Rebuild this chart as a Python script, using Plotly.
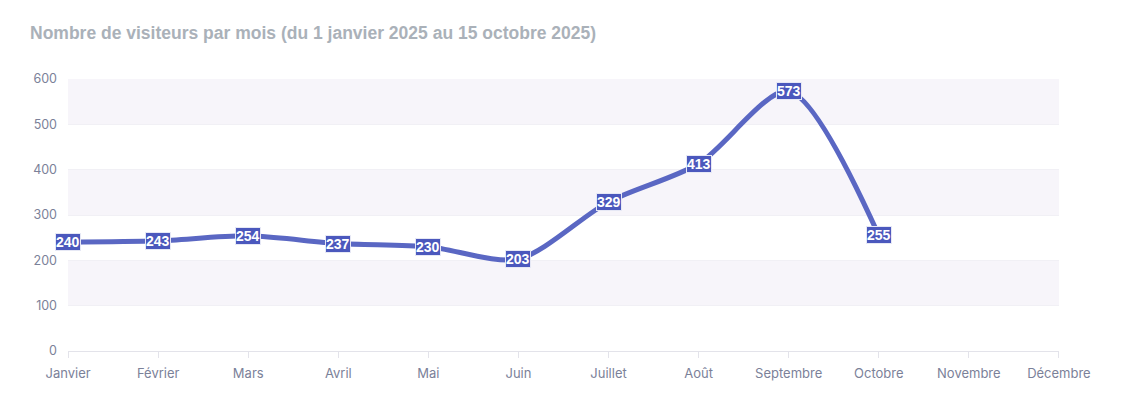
import plotly.graph_objects as go

months = ["Janvier", "Février", "Mars", "Avril", "Mai", "Juin", "Juillet",
          "Août", "Septembre", "Octobre", "Novembre", "Décembre"]
visitors = [240, 243, 254, 237, 230, 203, 329, 413, 573, 255]
y_ticks = [0, 100, 200, 300, 400, 500, 600]

fig = go.Figure()

# alternating bands
for i in range(len(y_ticks) - 1):
    if i % 2 == 1:
        fig.add_shape(type="rect", xref="paper", yref="y", x0=0, x1=1,
                      y0=y_ticks[i], y1=y_ticks[i + 1],
                      fillcolor="#f7f5fa", line_width=0, layer="below")

fig.add_trace(go.Scatter(
    x=months[:len(visitors)], y=visitors, mode="lines",
    line=dict(color="#5a67c3", width=5, shape="spline", smoothing=0.8),
    hoverinfo="x+y", showlegend=False,
))

for m, v in zip(months, visitors):
    fig.add_annotation(x=m, y=v, text=f"<b>{v}</b>", showarrow=False,
                       font=dict(family="Arial", size=14, color="white"),
                       bgcolor="#4b58bd", bordercolor="#e6e8f5", borderwidth=1,
                       borderpad=0)

fig.update_layout(
    width=1137, height=411,
    margin=dict(l=60, r=86, t=71, b=68),
    plot_bgcolor="white", paper_bgcolor="white",
    title=dict(text="Nombre de visiteurs par mois (du 1 janvier 2025 au 15 octobre 2025)",
               x=22 / 1137, xanchor="left", y=1 - 25 / 411, yanchor="middle",
               font=dict(family="Arial", size=17.5, color="#aab1b9", weight="bold")),
    xaxis=dict(type="category", categoryorder="array", categoryarray=months,
               tickvals=months, showgrid=False,
               showline=True, linecolor="#e3e3ea", linewidth=1,
               ticks="outside", ticklen=6, tickcolor="#e3e3ea",
               ticklabelstandoff=4,
               tickfont=dict(family="Inter", size=13, color="#7b8199"),
               zeroline=False),
    yaxis=dict(range=[0, 600], tickvals=y_ticks, showgrid=True,
               gridcolor="#f1f0f5", gridwidth=1, zeroline=False, showline=False,
               ticks="", ticklabelstandoff=10,
               tickfont=dict(family="Inter", size=12.5, color="#7b8199")),
)
fig.update_xaxes(range=[-0.001, 11.001])

fig.write_html("out.html")
